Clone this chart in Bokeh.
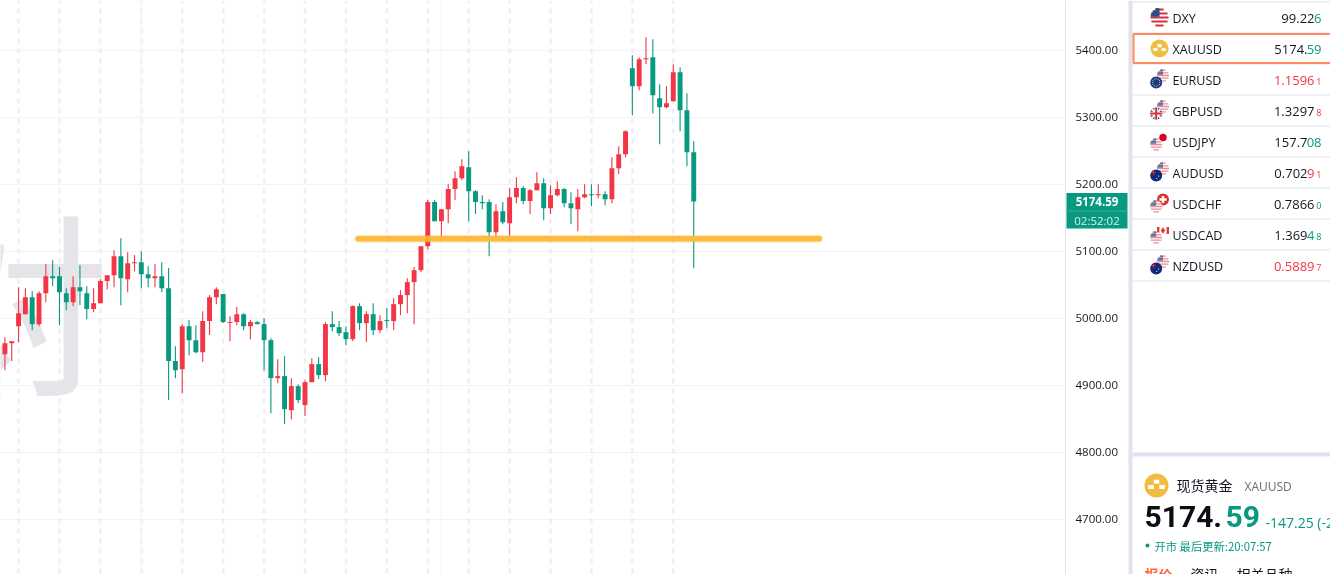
import math
from bokeh.plotting import figure
from bokeh.layouts import row
from bokeh.models import (ColumnDataSource, FixedTicker, LinearAxis, Range1d, NumeralTickFormatter)
from bokeh.core.properties import value
from bokeh.embed import file_html
from bokeh.resources import INLINE

GREEN = "#089981"
RED = "#F23645"

# ---------- candle data (up candles are red, down candles are green) ----------
highs = [4948,4972.2,4966.2,5046.8,5045.3,5040.8,5040.8,5081.1,5087.1,5076.7,5045.3,5063.2,5079.6,5048.3,5045.3,5058.7,5064.7,5102,5119.9,5099,5094.6,5100.5,5078.1,5081.1,5084.1,5075.2,4958.7,4991.6,4997.6,4990.1,5011,5034.9,5046.8,
         5036.4,5003.5,5017,5008,4997.6,4996.1,5000.5,4970.7,4939.3,4943.8,4911,4902,4908,4940.8,4942.3,4994.6,5011,4996.1,4988.6,5019.9,5022.9,5011,5022.9,5005,5015.5,5030.4,5042.3,5060.2,5076.7,5108,
         5176.7,5176.7,5163.2,5200.5,5219.9,5237.8,5249.8,5191.6,5184.1,5178.1,5170.7,5173.7,5194.6,5211,5197.5,5193.1,5218.4,5209.5,5199,5205,5194.6,5188.6,5193.1,5200.5,5200.5,5200.5,5190.1,
         5240.8,5257.2,5281,5393,5390,5419.9,5416.9,5349.7,5346.7,5379.5,5375.1,5336.3,5264.6]
lows = [4878.2,4922.9,4936.4,4964.7,5006.5,4982.6,4988.6,5024.4,5048.3,4990.1,5012.5,5018.4,5019.9,4999,5009.5,5022.9,5043.8,5046.8,5019.9,5039.3,5070.7,5045.3,5046.8,5046.8,5039.3,4878.2,4911,4888.6,4945.3,4948.3,4934.9,4975.2,5021.4,
        4993.1,4966.2,4990.1,4982.6,4969.2,4991.6,4922.9,4858.7,4903.5,4842.3,4849.8,4873.7,4854.3,4905,4909.5,4906.5,4981.1,4973.7,4960.2,4966.2,4982.6,4964.7,4975.2,4978.1,4985.6,4982.6,5005,5008,4991.6,5069.2,
        5103.5,5145.3,5122.9,5142.3,5176.7,5206.5,5145.3,5155.8,5163.2,5093,5122.9,5140.8,5122.9,5172.2,5170.7,5155.8,5191.6,5146.8,5155.8,5182.6,5166.2,5140.8,5130.4,5179.6,5167.7,5179.6,5169.2,
        5172.1,5215.4,5240.8,5303.4,5340.7,5379.5,5306.4,5260.2,5313.9,5324.3,5279.6,5227.3,5075.1]
opens = [4878.2,4946.8,4963.2,4988.6,5006.5,5031.9,4991.6,5037.8,5063.2,5063.2,5037.8,5024.4,5046.8,5037.8,5014,5022.9,5055.8,5064.7,5093,5058.7,5082.6,5084.1,5066.2,5060.2,5063.2,5045.3,4936.4,4924.4,4988.6,4967.7,4949.8,4996.1,5031.9,
         5036.4,4993.1,4994.6,5006.5,4988.6,4994.6,4991.6,4967.7,4911,4914,4863.2,4899,4870.7,4905,4931.9,4915.5,4991.6,4987.1,4979.6,4969.2,5018.4,4993.1,5006.5,4982.6,4997.6,4996.1,5021.4,5034.9,5054.3,5072.2,
         5108,5173.7,5145.3,5163.2,5193.1,5209.5,5225.9,5190.1,5173.7,5173.7,5128.9,5160.2,5142.3,5181.1,5194.6,5175.2,5191.6,5202,5164.7,5184.1,5193.1,5172.2,5163.2,5181.1,5185.6,5184.1,5185.6,
         5178,5224.3,5245.2,5373.6,5346.7,5387,5390,5328.8,5315.4,5324.3,5367.6,5310.9,5248.2]
closes = [4947.8,4963.2,4966.2,5008,5031.9,4991.6,5037.8,5063.2,5060.2,5039.3,5024.4,5046.8,5040.8,5014,5022.9,5055.8,5064.7,5093,5060.2,5082.6,5084.1,5066.2,5060.2,5063.2,5045.3,4936.4,4922.9,4988.6,4967.7,4949.8,4996.1,5031.9,5043.8,
          4994.6,4994.6,5006.5,4988.6,4994.6,4991.6,4967.7,4911,4914,4864.7,4899,4878.2,4905,4931.9,4915.5,4991.6,4987.1,4978.1,4969.2,5018.4,4993.1,5006.5,4982.6,4996.1,4996.1,5021.4,5034.9,5054.3,5072.2,5108,
          5173.7,5145.3,5163.2,5193.1,5209.5,5227.4,5190.1,5173.7,5172.2,5128.9,5160.2,5143.8,5181.1,5194.6,5175.2,5191.6,5202,5164.7,5184.1,5193.1,5172.2,5164.7,5181.1,5185.6,5184.1,5185.6,5178.1,
          5224.3,5245.2,5279.6,5346.7,5387,5388.5,5333.3,5315.4,5321.3,5367.6,5310.9,5248.2,5174.59]

price_ticks = [4700, 4800, 4900, 5000, 5100, 5200, 5300, 5400]
dashed_candles = list(range(3, 103, 6))
solid_candles = [21, 65]
support_price = 5119
support_from, support_to = 52.8, 120.4
last_price_text = "5174.59"
countdown_text = "02:52:02"

symbols = ["DXY","XAUUSD","EURUSD","GBPUSD","USDJPY","AUDUSD","USDCHF","USDCAD","NZDUSD"]
K, G, R = "#131722", GREEN, RED
# quote fragments: (text, colour) ending at the last digit columns
quote_main = ["99.22","5174.","1.1596","1.3297","157.7","0.702","0.7866","1.369","0.5889"]
main_color = [K,K,R,K,K,K,K,K,R]
quote_mid = ["6","59","","","08","9","","4",""]
mid_color = [G,G,K,K,G,R,K,G,K]
quote_tail = ["","","1","8","","1","0","8","7"]
tail_color = [K,K,R,R,K,R,G,G,R]

# ---------- chart ----------
idx = list(range(len(opens)))
colors = [RED if c >= o else GREEN for o, c in zip(opens, closes)]
src = ColumnDataSource(dict(x=idx, o=opens, c=closes, h=highs, l=lows, color=colors))

PX0, PXS = -2.4, 6.82
xr = Range1d((0 - PX0) / PXS, (1065 - PX0) / PXS)
yr = Range1d(5400 - 524 / 0.67, 5400 + 50 / 0.67)
p = figure(width=1127, height=574, x_range=xr, y_range=yr, output_backend="svg", toolbar_location=None,
           min_border_left=0, min_border_right=62, min_border_top=0, min_border_bottom=0,
           x_axis_type=None, y_axis_type=None, background_fill_color="white", border_fill_color="white",
           outline_line_color=None)
p.grid.visible = False

# the axis runs on a slightly raised range so that its labels sit centred on the grid lines
p.extra_y_ranges["labels"] = Range1d(yr.start - 0.6 / 0.67, yr.end - 0.6 / 0.67)
ax = LinearAxis(y_range_name="labels", ticker=FixedTicker(ticks=price_ticks), formatter=NumeralTickFormatter(format="0.00"))
ax.axis_line_color = "#E0E3EB"
ax.axis_line_width = 1
ax.major_tick_line_color = None
ax.minor_tick_line_color = None
ax.major_tick_out = 0
ax.major_tick_in = 0
ax.minor_tick_out = 0
ax.minor_tick_in = 0
ax.major_label_text_font = "Open Sans"
ax.major_label_text_font_size = "11.5px"
ax.major_label_text_color = "#131722"
ax.major_label_standoff = 10
p.add_layout(ax, "right")

# horizontal grid
p.segment(x0=[xr.start] * 8, x1=[xr.end] * 8, y0=price_ticks, y1=price_ticks, line_color="#F2F2F7", line_width=1)
# vertical grid
p.segment(x0=dashed_candles, x1=dashed_candles, y0=[yr.end] * len(dashed_candles), y1=[yr.start] * len(dashed_candles),
          line_color="#EEEEF5", line_width=2.5, line_dash="5 5", line_dash_offset=2)
p.segment(x0=solid_candles, x1=solid_candles, y0=[yr.start] * 2, y1=[yr.end] * 2, line_color="#F2F2F7", line_width=1)

# watermark
p.text(x=[(-86 - PX0) / PXS], y=[5400 - (295.6 - 50) / 0.67], text=["对"], text_font=value("Noto Sans CJK SC"),
       text_font_size="195px", text_color="#E5E5E9", text_align="left", text_baseline="middle")

p.segment("x", "h", "x", "l", source=src, line_color="color", line_width=1.1)
p.vbar("x", 0.72, "o", "c", source=src, fill_color="color", line_color="color", line_width=0)

# support line
p.line([support_from, support_to], [support_price, support_price], line_color="#FFB733", line_width=7.5,
       line_alpha=0.35, line_cap="round")
p.line([support_from, support_to], [support_price, support_price], line_color="#FFB733", line_width=5.5,
       line_alpha=0.92, line_cap="round")

# ---------- right panel, laid over the price scale from x = 1065 ----------
q = figure(width=265, height=574, x_range=Range1d(1065, 1330), y_range=Range1d(574, 0), output_backend="svg",
           toolbar_location=None, min_border=0, x_axis_type=None, y_axis_type=None, outline_line_color=None,
           background_fill_color=None, border_fill_color=None)
q.styles = {"position": "fixed", "left": "1065px", "top": "0"}
q.grid.visible = False

# last price tag
q.quad(left=[1066], right=[1127], top=[192.5], bottom=[228], fill_color=GREEN, line_color=None)
q.segment([1066], [210.5], [1127], [210.5], line_color="#3BAF9A", line_width=1)
q.text([1096.5], [201], text=[last_price_text], text_color="white", text_font=value("Open Sans"), text_font_style="bold",
       text_font_size="11.5px", text_align="center", text_baseline="middle")
q.text([1096.5], [219.5], text=[countdown_text], text_color="#D5EFE9", text_font=value("Open Sans"),
       text_font_size="11.5px", text_align="center", text_baseline="middle")

BAND = "#E0E3EE"
q.quad(left=[1128], right=[1132], top=[0], bottom=[574], fill_color=BAND, line_color=None)
q.quad(left=[1132], right=[1330], top=[452], bottom=[456], fill_color=BAND, line_color=None)
seps = [1.5 + 31 * k for k in range(10)]
q.segment([1132] * 10, seps, [1330] * 10, seps, line_color="#E0E3EE", line_width=1)


def chords(cx, cy, r, y0, y1, x_limit=None):
    """End points of a circle's chord band centred between y0 and y1 (offsets from cy)."""
    ym = (y0 + y1) / 2
    half = math.sqrt(max(r * r - ym * ym, 0))
    x0, x1 = cx - half, cx + half
    if x_limit is not None:
        x1 = min(x1, cx + x_limit)
    return x0, x1, cy + ym


def us(cx, cy, r, alpha=1.0):
    q.circle([cx], [cy], radius=r, fill_color="white", fill_alpha=1, line_color=None)
    n = 9
    step = 2 * r / n
    for i in range(0, n, 2):
        y0 = -r + i * step
        x0, x1, y = chords(cx, cy, r, y0, y0 + step)
        q.segment([x0], [y], [x1], [y], line_color="#D5303F", line_width=step, line_alpha=alpha)
    for i in range(0, 4):
        y0 = -r + i * step
        x0, x1, y = chords(cx, cy, r, y0, y0 + step, 0)
        q.segment([x0], [y], [x1], [y], line_color="#2E4A86", line_width=step + 0.3, line_alpha=alpha)


def disc(cx, cy, r, color, alpha=1.0):
    q.circle([cx], [cy], radius=r, fill_color=color, fill_alpha=alpha, line_color=None)


def gold(cx, cy, r):
    disc(cx, cy, r, "#F0BD42")
    w, h = r * 0.42, r * 0.28
    for dx, dy in [(0, -0.32), (-0.46, 0.12), (0.46, 0.12)]:
        q.quad(left=[cx + dx * r - w / 2 * 1.1], right=[cx + dx * r + w / 2 * 1.1],
               top=[cy + dy * r - h / 2 * 1.2], bottom=[cy + dy * r + h / 2 * 1.2],
               fill_color="white", line_color=None)


def euro(cx, cy, r):
    disc(cx, cy, r, "#143A8C")
    for k in range(12):
        a = k * math.pi / 6
        disc(cx + 0.62 * r * math.cos(a), cy + 0.62 * r * math.sin(a), 0.55, "#F5D33B")


def uk(cx, cy, r):
    disc(cx, cy, r, "#24366F")
    d = r * 0.707
    q.segment([cx - d, cx - d], [cy - d, cy + d], [cx + d, cx + d], [cy + d, cy - d], line_color="white", line_width=2)
    q.segment([cx - r, cx], [cy, cy - r], [cx + r, cx], [cy, cy + r], line_color="white", line_width=3.6)
    q.segment([cx - r, cx], [cy, cy - r], [cx + r, cx], [cy, cy + r], line_color="#D5303F", line_width=2)


def southern(cx, cy, r):
    disc(cx, cy, r, "#102A78")
    q.segment([cx - r * 0.85], [cy - r * 0.5], [cx - r * 0.05], [cy - r * 0.5], line_color="#D5303F", line_width=1.2)
    q.segment([cx - r * 0.45], [cy - r * 0.9], [cx - r * 0.45], [cy - r * 0.05], line_color="#D5303F", line_width=1.2)
    q.circle([cx + r * 0.4, cx + r * 0.1], [cy + r * 0.1, cy + r * 0.5], radius=0.6, fill_color="white", line_color=None)


def swiss(cx, cy, r):
    disc(cx, cy, r, "#D9342B")
    q.segment([cx - r * 0.6, cx], [cy, cy - r * 0.6], [cx + r * 0.6, cx], [cy, cy + r * 0.6], line_color="white", line_width=2.4)


def canada(cx, cy, r):
    q.quad(left=[cx - r * 1.0, cx + r * 0.6], right=[cx - r * 0.6, cx + r * 1.0], top=[cy - r * 0.6] * 2,
           bottom=[cy + r * 0.6] * 2, fill_color="#E0393E", line_color=None)
    q.scatter([cx], [cy], size=r * 1.1, marker="diamond", fill_color="#E0393E", line_color=None)


def japan(cx, cy, r):
    disc(cx, cy, r * 0.62, "#D9002F")


row_y = [17.5 + 31 * k for k in range(9)]
us(1159, row_y[0] - 0.5, 9)
gold(1159, row_y[1] - 0.5, 9)
pairs = {2: euro, 3: uk, 4: japan, 5: southern, 6: swiss, 7: canada, 8: southern}
for k, fn in pairs.items():
    cy = row_y[k]
    if k in (4, 6, 7):  # quote flag top right, dollar below
        fn(1162.5, cy - 4.5, 6)
        us(1155.7, cy + 2.5, 6, 0.55)
    else:
        us(1162.5, cy - 4.5, 6, 0.55)
        fn(1155.7, cy + 2.5, 6)

PF = value("Open Sans")
q.text([1172] * 9, [y for y in row_y], text=symbols, text_font=PF, text_font_size="12.5px", text_color=K,
       text_align="left", text_baseline="middle")
for k, y in enumerate(row_y):
    has_mid = bool(quote_mid[k])
    mid_end = 1321 if (len(quote_mid[k]) == 2 or not quote_tail[k]) else 1314
    main_end = 1314 if not has_mid else (1307 if mid_end == 1314 or len(quote_mid[k]) == 2 else 1314)
    q.text([main_end], [y], text=[quote_main[k]], text_font=PF, text_font_size="13px",
           text_color=main_color[k], text_align="right", text_baseline="middle")
    if has_mid:
        q.text([mid_end], [y], text=[quote_mid[k]], text_font=PF, text_font_size="13px",
               text_color=mid_color[k], text_align="right", text_baseline="middle")
    if quote_tail[k]:
        q.text([1321], [y + 1], text=[quote_tail[k]], text_font=PF, text_font_size="9px",
               text_color=tail_color[k], text_align="right", text_baseline="middle")
q.quad(left=[1133], right=[1331], top=[33.5], bottom=[62.5], fill_color=None, line_color="#FF8A5C", line_width=2)

# detail block
CJK = value("Noto Sans CJK SC")
gold(1156, 485, 12)
q.text([1176], [484], text=["现货黄金"], text_font=CJK, text_font_size="14px", text_color=K, text_baseline="middle")
q.text([1244], [485.5], text=["XAUUSD"], text_font=PF, text_font_size="12px", text_color="#6A6D78", text_baseline="middle")
q.text([1144], [516], text=["5174."], text_font=value("Roboto"), text_font_style="bold", text_font_size="30px",
       text_color="#0B0E14", text_baseline="middle")
q.text([1225], [516], text=["59"], text_font=value("Roboto"), text_font_style="bold", text_font_size="30px",
       text_color=GREEN, text_baseline="middle")
q.text([1265], [522], text=["-147.25 (-2.77%)"], text_font=PF, text_font_size="14px", text_color=GREEN,
       text_baseline="middle")
disc(1147, 545, 2, GREEN)
q.text([1154], [545], text=["开市 最后更新:20:07:57"], text_font=CJK, text_font_size="11.3px", text_color=GREEN,
       text_baseline="middle")
q.text([1144], [573], text=["报价"], text_font=CJK, text_font_style="bold", text_font_size="14px", text_color="#FF6A3D",
       text_baseline="middle")
q.text([1190], [573], text=["资讯"], text_font=CJK, text_font_size="14px", text_color=K, text_baseline="middle")
q.text([1236], [573], text=["相关品种"], text_font=CJK, text_font_size="14px", text_color=K, text_baseline="middle")

layout = row(p, q, spacing=0, styles={"position": "fixed", "left": "0", "top": "0"})
open("out.html", "w").write(file_html(layout, INLINE))
